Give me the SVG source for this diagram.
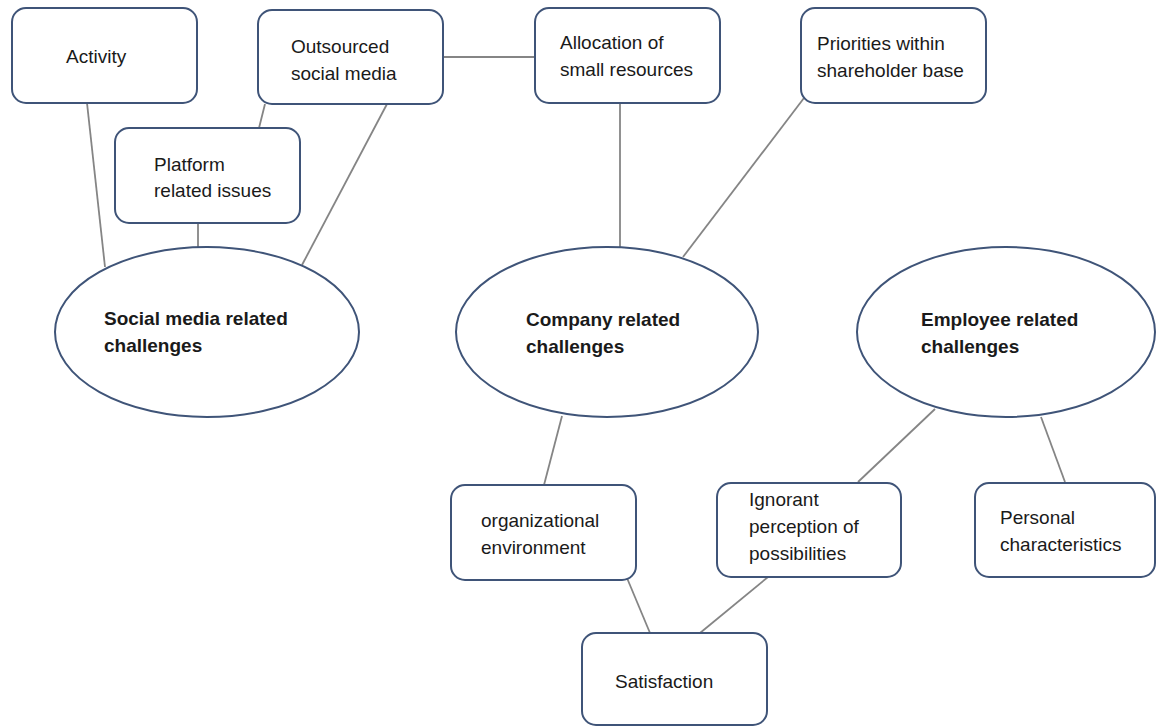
<svg xmlns="http://www.w3.org/2000/svg" width="1157" height="727" viewBox="0 0 1157 727">
<style>
.box{fill:#fff;stroke:#3f5478;stroke-width:2}
.ell{fill:#fff;stroke:#3f5478;stroke-width:2}
.con line{stroke:#858585;stroke-width:1.8}
text{font-family:"Liberation Sans",Arial,sans-serif;font-size:19px;fill:#1a1a1a}
.b{font-weight:bold}
</style>
<rect width="1157" height="727" fill="#fff"/>
<g id="connectors" class="con">
<line x1="87" y1="103" x2="105" y2="267"/>
<line x1="265" y1="104" x2="259" y2="128"/>
<line x1="198" y1="223" x2="198" y2="248"/>
<line x1="387" y1="104" x2="302" y2="265"/>
<line x1="443" y1="57" x2="535" y2="57"/>
<line x1="620" y1="103" x2="620" y2="247"/>
<line x1="804" y1="98" x2="683" y2="257"/>
<line x1="562" y1="416" x2="544" y2="485"/>
<line x1="935" y1="409" x2="858" y2="482"/>
<line x1="1041" y1="417" x2="1065" y2="482"/>
<line x1="627" y1="578" x2="650" y2="633"/>
<line x1="768" y1="577" x2="700" y2="633"/>
</g>
<g id="activity"><rect class="box" x="12" y="8" width="185" height="95" rx="14"/><text x="66" y="63">Activity</text></g>
<g id="outsourced"><rect class="box" x="258" y="10" width="185" height="94" rx="14"/><text x="291" y="53">Outsourced</text><text x="291" y="80">social media</text></g>
<g id="allocation"><rect class="box" x="535" y="8" width="185" height="95" rx="14"/><text x="560" y="49">Allocation of</text><text x="560" y="76">small resources</text></g>
<g id="priorities"><rect class="box" x="801" y="8" width="185" height="95" rx="14"/><text x="817" y="50">Priorities within</text><text x="817" y="77">shareholder base</text></g>
<g id="platform"><rect class="box" x="115" y="128" width="185" height="95" rx="14"/><text x="154" y="171">Platform</text><text x="154" y="197">related issues</text></g>
<g id="social"><ellipse class="ell" cx="207" cy="332" rx="152" ry="85"/><text class="b" x="104" y="325">Social media related</text><text class="b" x="104" y="352">challenges</text></g>
<g id="company"><ellipse class="ell" cx="607" cy="332" rx="151" ry="85"/><text class="b" x="526" y="326">Company related</text><text class="b" x="526" y="353">challenges</text></g>
<g id="employee"><ellipse class="ell" cx="1006" cy="332" rx="149" ry="85"/><text class="b" x="921" y="326">Employee related</text><text class="b" x="921" y="353">challenges</text></g>
<g id="organizational"><rect class="box" x="451" y="485" width="185" height="95" rx="14"/><text x="481" y="527">organizational</text><text x="481" y="554">environment</text></g>
<g id="ignorant"><rect class="box" x="717" y="483" width="184" height="94" rx="14"/><text x="749" y="506">Ignorant</text><text x="749" y="533">perception of</text><text x="749" y="560">possibilities</text></g>
<g id="personal"><rect class="box" x="975" y="483" width="180" height="94" rx="14"/><text x="1000" y="524">Personal</text><text x="1000" y="551">characteristics</text></g>
<g id="satisfaction"><rect class="box" x="582" y="633" width="185" height="92" rx="14"/><text x="615" y="688">Satisfaction</text></g>
</svg>
